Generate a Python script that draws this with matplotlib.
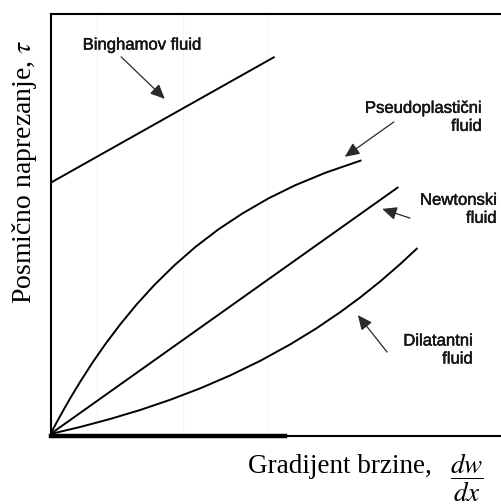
import matplotlib
matplotlib.use('Agg')
import matplotlib.pyplot as plt
import matplotlib.patheffects as pe

plt.rcParams['mathtext.fontset'] = 'stix'

# Schematic flow curves (shear rate -> shear stress), arbitrary units 0..100
bingham_x = [0.0, 49.8]
bingham_y = [59.8, 89.8]

newton_x = [0.0, 77.3]
newton_y = [0.0, 58.8]

pseudo_x = [0.0, 1.33, 2.67, 4.44, 6.67, 9.33, 12.22, 15.56, 19.11, 23.11,
            27.56, 32.22, 37.33, 42.67, 48.44, 54.44, 61.11, 69.11]
pseudo_y = [0.0, 2.69, 5.29, 8.62, 12.55, 17.0, 21.45, 26.19, 30.81, 35.52,
            40.19, 44.55, 48.74, 52.52, 56.10, 59.26, 62.21, 65.17]

dilat_x = [0.0, 6.67, 13.33, 20.0, 26.67, 33.33, 40.0, 46.67, 53.33, 58.89,
           64.44, 68.89, 73.33, 77.78, 81.56]
dilat_y = [0.0, 1.69, 3.60, 5.74, 8.17, 10.90, 13.98, 17.45, 21.38, 25.02,
           29.05, 32.57, 36.38, 40.52, 44.29]

# label text, text anchor, arrow tail, arrow tip
labels = ['Binghamov fluid', 'Pseudoplastični\nfluid', 'Newtonski\nfluid', 'Dilatantni\nfluid']
label_pos = [(20.4, 92.6), (95.9, 75.4), (99.2, 53.5), (93.9, 20.0)]
label_ha = ['center', 'right', 'right', 'right']
arrow_tail = [(15.7, 89.8), (76.3, 74.3), (79.9, 51.4), (74.8, 19.5)]
arrow_tip = [(25.4, 79.8), (65.4, 66.0), (73.7, 53.6), (68.3, 28.3)]

fig = plt.figure(figsize=(5.01, 5.04), dpi=100)
ax = fig.add_axes([50.5 / 501, 1 - 436.1 / 504, 450 / 501, 422.1 / 504])

for xs, ys in [(bingham_x, bingham_y), (newton_x, newton_y),
               (pseudo_x, pseudo_y), (dilat_x, dilat_y)]:
    ax.plot(xs, ys, color='black', lw=1.4, solid_capstyle='butt',
            solid_joinstyle='round')

for txt, pos, ha, tail, tip in zip(labels, label_pos, label_ha, arrow_tail, arrow_tip):
    t = ax.text(pos[0], pos[1], txt, ha=ha, va='center', fontsize=12,
                family='Liberation Sans', color='#151515', linespacing=1.25,
                multialignment='right')
    t.set_path_effects([pe.withStroke(linewidth=0.35, foreground='#151515')])
    ax.annotate('', xy=tip, xytext=tail,
                arrowprops=dict(arrowstyle='-|>,head_length=0.55,head_width=0.25',
                                color='#2a2a2a', lw=0.9, mutation_scale=16,
                                shrinkA=0, shrinkB=0))

ax.set_xlim(0, 100)
ax.set_ylim(-0.5, 100)

# very faint vertical guide lines like in the scanned figure
ax.set_xticks([10.3, 29.4, 48.1])
ax.set_yticks([])
ax.tick_params(length=0, labelbottom=False)
ax.grid(axis='x', color='#f5f5f5', lw=1)

for side in ['left', 'top', 'bottom']:
    ax.spines[side].set_linewidth(1.5)
    ax.spines[side].set_color('black')
ax.spines['right'].set_visible(False)
ax.axhline(-0.5, xmin=0, xmax=0.52, color='black', lw=3.2, clip_on=False)

fig.text(24.5 / 501, 1 - 172 / 504, r'Posmično naprezanje, $\tau$', rotation=90,
         ha='center', va='center', fontsize=20, family='Liberation Serif')
fig.text(248 / 501, 1 - 473 / 504, 'Gradijent brzine,', ha='left', va='baseline',
         fontsize=19.5, family='Liberation Serif')
fig.text(466.5 / 501, 1 - 477.5 / 504, r'$\dfrac{dw}{dx}$', ha='center', va='center',
         fontsize=19.5)

fig.savefig('out.png', dpi=100)
